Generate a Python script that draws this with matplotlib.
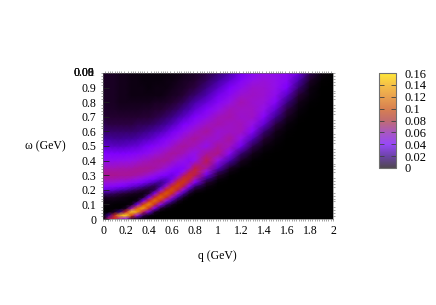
import numpy as np
import matplotlib
matplotlib.use('Agg')
import matplotlib.pyplot as plt
from matplotlib.colors import LinearSegmentedColormap, Normalize
from matplotlib.cm import ScalarMappable

plt.rcParams['font.family'] = ['Liberation Serif', 'DejaVu Serif']

q_vals = [0, 0.05, 0.1, 0.15, 0.2, 0.25, 0.3, 0.35, 0.4, 0.45, 0.5, 0.55, 0.6, 0.65, 0.7, 0.75, 0.8,
          0.9, 1.0, 1.1, 1.2, 1.3, 1.4, 1.5, 1.6, 1.7, 1.8, 1.9, 2.0]
w_vals = [0, 0.025, 0.05, 0.075, 0.1, 0.125, 0.15, 0.175, 0.2, 0.225, 0.25, 0.275, 0.3, 0.325, 0.35,
          0.4, 0.45, 0.5, 0.55, 0.6, 0.65, 0.7, 0.75, 0.8, 0.85, 0.9, 0.95, 1.0]

# intensity x 1000, one list per q (w from 0 up to 1)
col_000 = [0, 0, 0, 1, 2, 3, 6, 13, 24, 33, 42, 48, 52, 50, 46, 36, 28, 21, 16, 12, 10, 8, 7, 6, 6, 6, 6, 6]
col_005 = [60, 15, 1, 1, 2, 3, 6, 12, 23, 32, 41, 48, 52, 50, 46, 36, 28, 21, 16, 12, 9, 7, 6, 5, 5, 5, 5, 5]
col_010 = [80, 75, 5, 1, 1, 3, 5, 11, 21, 31, 40, 47, 52, 50, 46, 36, 27, 20, 15, 12, 9, 7, 6, 5, 5, 5, 5, 5]
col_015 = [45, 130, 14, 1, 1, 2, 4, 9, 18, 28, 38, 46, 51, 50, 47, 37, 27, 20, 15, 12, 9, 7, 5, 4, 4, 4, 4, 4]
col_020 = [28, 145, 72, 5, 1, 2, 3, 7, 16, 26, 36, 45, 51, 50, 47, 38, 28, 21, 16, 12, 9, 7, 5, 4, 4, 4, 4, 4]
col_025 = [8, 85, 140, 46, 4, 1, 2, 5, 13, 23, 33, 43, 50, 51, 48, 39, 29, 22, 16, 12, 9, 7, 5, 4, 3, 3, 3, 3]
col_030 = [2, 38, 122, 108, 27, 4, 2, 4, 10, 20, 30, 40, 48, 51, 50, 41, 31, 23, 17, 13, 10, 7, 5, 4, 3, 3, 3, 3]
col_035 = [0, 10, 62, 125, 92, 27, 6, 3, 8, 16, 26, 36, 45, 50, 51, 44, 33, 25, 19, 14, 10, 8, 6, 4, 3, 3, 2, 2]
col_040 = [0, 3, 24, 80, 118, 80, 27, 8, 6, 12, 22, 31, 41, 48, 51, 46, 36, 27, 20, 15, 11, 8, 6, 4, 3, 2, 2, 2]
col_045 = [0, 1, 5, 27, 78, 110, 78, 30, 10, 9, 18, 27, 36, 44, 49, 49, 40, 31, 23, 17, 12, 9, 7, 5, 3, 3, 2, 2]
col_050 = [0, 0, 1, 8, 33, 78, 105, 78, 36, 16, 14, 22, 31, 39, 46, 50, 43, 34, 26, 19, 14, 10, 7, 5, 3, 3, 2, 2]
col_055 = [0, 0, 0, 2, 12, 38, 78, 100, 78, 42, 20, 20, 27, 34, 41, 50, 47, 38, 30, 22, 16, 12, 9, 6, 4, 3, 3, 2]
col_060 = [0, 0, 0, 1, 4, 16, 42, 78, 95, 78, 46, 26, 24, 29, 34, 46, 50, 43, 34, 26, 19, 14, 10, 7, 5, 4, 3, 3]
col_065 = [0, 0, 0, 0, 1, 5, 16, 38, 70, 90, 80, 52, 32, 27, 30, 41, 49, 48, 39, 30, 23, 17, 12, 9, 6, 5, 4, 3]
col_070 = [0, 0, 0, 0, 0, 1, 5, 16, 36, 64, 84, 80, 58, 37, 30, 37, 46, 50, 44, 35, 27, 20, 15, 11, 8, 6, 5, 4]
col_075 = [0, 0, 0, 0, 0, 0, 1, 5, 14, 31, 56, 75, 76, 60, 42, 33, 41, 48, 48, 40, 31, 24, 18, 14, 10, 8, 6, 5]
col_080 = [0, 0, 0, 0, 0, 0, 0, 1, 5, 13, 27, 46, 64, 72, 66, 38, 38, 45, 50, 44, 36, 28, 22, 17, 12, 9, 7, 6]
col_090 = [0, 0, 0, 0, 0, 0, 0, 0, 1, 3, 7, 14, 24, 37, 50, 64, 50, 38, 44, 50, 44, 36, 29, 23, 18, 14, 11, 9]
col_100 = [0, 0, 0, 0, 0, 0, 0, 0, 0, 0, 1, 3, 7, 12, 20, 38, 54, 50, 42, 42, 48, 45, 38, 31, 25, 20, 16, 13]
col_110 = [0, 0, 0, 0, 0, 0, 0, 0, 0, 0, 0, 0, 1, 3, 6, 18, 33, 45, 50, 44, 44, 48, 46, 39, 33, 27, 22, 18]
col_120 = [0, 0, 0, 0, 0, 0, 0, 0, 0, 0, 0, 0, 0, 0, 1, 5, 13, 25, 37, 45, 46, 43, 44, 47, 42, 36, 30, 25]
col_130 = [0, 0, 0, 0, 0, 0, 0, 0, 0, 0, 0, 0, 0, 0, 0, 1, 4, 10, 19, 30, 39, 44, 44, 43, 44, 43, 38, 33]
col_140 = [0, 0, 0, 0, 0, 0, 0, 0, 0, 0, 0, 0, 0, 0, 0, 0, 1, 3, 7, 13, 22, 31, 38, 41, 42, 42, 41, 38]
col_150 = [0, 0, 0, 0, 0, 0, 0, 0, 0, 0, 0, 0, 0, 0, 0, 0, 0, 1, 2, 4, 9, 15, 22, 30, 36, 38, 38, 37]
col_160 = [0, 0, 0, 0, 0, 0, 0, 0, 0, 0, 0, 0, 0, 0, 0, 0, 0, 0, 0, 1, 2, 5, 9, 14, 21, 27, 32, 34]
col_170 = [0, 0, 0, 0, 0, 0, 0, 0, 0, 0, 0, 0, 0, 0, 0, 0, 0, 0, 0, 0, 0, 1, 2, 4, 8, 13, 18, 24]
col_180 = [0, 0, 0, 0, 0, 0, 0, 0, 0, 0, 0, 0, 0, 0, 0, 0, 0, 0, 0, 0, 0, 0, 0, 1, 2, 3, 6, 10]
col_190 = [0, 0, 0, 0, 0, 0, 0, 0, 0, 0, 0, 0, 0, 0, 0, 0, 0, 0, 0, 0, 0, 0, 0, 0, 0, 0, 1, 3]
col_200 = [0, 0, 0, 0, 0, 0, 0, 0, 0, 0, 0, 0, 0, 0, 0, 0, 0, 0, 0, 0, 0, 0, 0, 0, 0, 0, 0, 0]

columns = [col_000, col_005, col_010, col_015, col_020, col_025, col_030, col_035, col_040, col_045,
           col_050, col_055, col_060, col_065, col_070, col_075, col_080, col_090, col_100, col_110,
           col_120, col_130, col_140, col_150, col_160, col_170, col_180, col_190, col_200]

x_ticks = [0, 0.2, 0.4, 0.6, 0.8, 1, 1.2, 1.4, 1.6, 1.8, 2]
x_labels = ['0', '0.2', '0.4', '0.6', '0.8', '1', '1.2', '1.4', '1.6', '1.8', '2']
y_ticks = [0, 0.1, 0.2, 0.3, 0.4, 0.5, 0.6, 0.7, 0.8, 0.9]
y_labels = ['0', '0.1', '0.2', '0.3', '0.4', '0.5', '0.6', '0.7', '0.8', '0.9']
top_labels = ['1', '0.00', '0.08', '0.09']  # these sit on top of each other in the original
cb_ticks = [0, 0.02, 0.04, 0.06, 0.08, 0.1, 0.12, 0.14, 0.16]
cb_labels = ['0', '0.02', '0.04', '0.06', '0.08', '0.1', '0.12', '0.14', '0.16']

heat_cmap = LinearSegmentedColormap.from_list('heat', [
    (0, '#000000'), (0.05, '#280038'), (0.1, '#4400a0'), (0.17, '#8000ff'), (0.24, '#9410e8'),
    (0.32, '#a81498'), (0.42, '#c01c40'), (0.55, '#d03c08'), (0.7, '#e87800'),
    (0.85, '#f8c018'), (1, '#ffff40')])
bar_cmap = LinearSegmentedColormap.from_list('bar', [
    (0, '#504850'), (0.125, '#6c44a8'), (0.25, '#9848f8'), (0.375, '#a858c0'), (0.5, '#c06c70'),
    (0.625, '#d88050'), (0.75, '#e8a050'), (0.875, '#f5c048'), (1, '#ffe838')])
norm = Normalize(0, 0.16)

W, H = 436, 305
fig = plt.figure(figsize=(W / 100, H / 100), dpi=100)
ax = fig.add_axes([103 / W, 1 - 219 / H, 230 / W, 146 / H])

z = np.array(columns).T / 1000
ax.pcolormesh(q_vals, w_vals, z, cmap=heat_cmap, norm=norm, shading='gouraud', rasterized=True)
ax.set_xlim(0, 2)
ax.set_ylim(0, 1)

ax.set_xticks(x_ticks, x_labels, fontsize=8.5)
ax.set_yticks(y_ticks, y_labels, fontsize=8.5)
ax.set_xticks(np.arange(0, 2.01, 0.02), minor=True)
ax.set_yticks(np.arange(0, 1.01, 0.02), minor=True)
ax.tick_params(axis='y', which='major', direction='in', length=4, width=0.6, color='#202020', pad=5)
ax.tick_params(axis='x', which='major', direction='out', length=1.5, width=0.5, color='#808080', pad=2.5)
ax.tick_params(which='minor', direction='out', length=1.2, width=0.5, color='#808080',
               top=True, right=True, bottom=True, left=True)
for s in ax.spines.values():
    s.set_linewidth(0.4)
    s.set_color('#606060')

for lab in top_labels:
    ax.annotate(lab, (0, 1), xytext=(-6, 0), textcoords='offset points', ha='right', va='center',
                fontsize=8.5, color='#101010', annotation_clip=False)

fig.text(45 / W, 1 - 146 / H, 'ω (GeV)', ha='center', va='center', fontsize=8.5)
fig.text(217 / W, 1 - 256 / H, 'q (GeV)', ha='center', va='center', fontsize=8.5)

cax = fig.add_axes([379 / W, 1 - 168 / H, 17 / W, 95 / H])
sm = ScalarMappable(norm=norm, cmap=bar_cmap)
cb = fig.colorbar(sm, cax=cax)
cb.set_ticks(cb_ticks, labels=cb_labels, fontsize=9)
cb.ax.tick_params(direction='in', length=3.5, width=0.6, color='#404040', left=True, right=True, pad=6)
cb.outline.set_linewidth(0.8)
cb.outline.set_edgecolor('#707070')

fig.savefig('out.png', dpi=100)
